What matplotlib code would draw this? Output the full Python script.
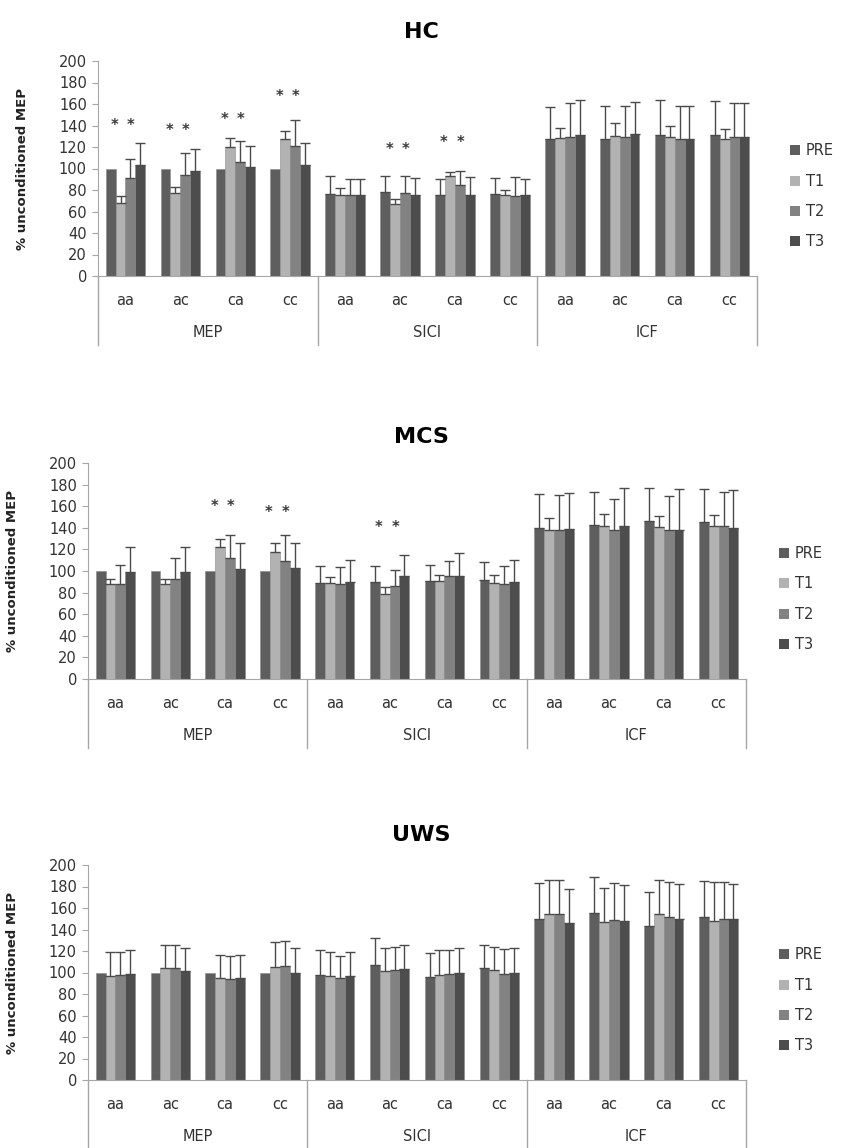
import numpy as np
import matplotlib
matplotlib.use('Agg')
import matplotlib.pyplot as plt
from matplotlib.patches import Patch
import matplotlib.transforms as mtransforms

plt.rcParams['font.family'] = ['DejaVu Sans']

# categories
sub_labels = ['aa', 'ac', 'ca', 'cc'] * 3
group_labels = ['MEP', 'SICI', 'ICF']
series = ['PRE', 'T1', 'T2', 'T3']
colors = ['#5e5e5e', '#b2b2b2', '#828282', '#4d4d4d']

# HC
hc_pre = [100, 100, 100, 100, 76, 78, 75, 76, 127, 127, 131, 131]
hc_t1 = [68, 77, 120, 127, 75, 67, 93, 75, 128, 130, 129, 127]
hc_t2 = [91, 94, 106, 121, 75, 77, 85, 74, 129, 129, 127, 129]
hc_t3 = [103, 98, 101, 103, 75, 75, 75, 75, 131, 132, 127, 129]
hc_pre_err = [0, 0, 0, 0, 17, 15, 15, 15, 30, 31, 33, 32]
hc_t1_err = [6, 6, 8, 8, 7, 5, 4, 5, 10, 12, 11, 10]
hc_t2_err = [18, 20, 20, 24, 15, 16, 13, 18, 32, 29, 31, 32]
hc_t3_err = [21, 20, 20, 21, 15, 16, 17, 15, 33, 30, 31, 32]
hc_star_idx = [0, 1, 2, 3, 5, 6]
hc_star_y = [140, 135, 146, 167, 118, 124]

# MCS
mcs_pre = [100, 100, 100, 100, 89, 90, 91, 92, 140, 143, 146, 145]
mcs_t1 = [88, 88, 122, 118, 89, 79, 91, 89, 138, 142, 141, 142]
mcs_t2 = [88, 93, 112, 109, 88, 86, 95, 88, 138, 138, 138, 142]
mcs_t3 = [99, 99, 102, 103, 90, 95, 95, 90, 139, 142, 138, 140]
mcs_pre_err = [0, 0, 0, 0, 16, 15, 15, 16, 31, 30, 31, 31]
mcs_t1_err = [5, 5, 8, 8, 5, 6, 5, 7, 11, 11, 10, 10]
mcs_t2_err = [18, 19, 21, 24, 16, 15, 14, 17, 32, 29, 31, 31]
mcs_t3_err = [23, 23, 24, 23, 20, 20, 22, 20, 33, 35, 38, 35]
mcs_star_idx = [2, 3, 5]
mcs_star_y = [160, 154, 140]

# UWS
uws_pre = [100, 100, 100, 100, 98, 107, 96, 104, 150, 155, 143, 152]
uws_t1 = [97, 104, 95, 105, 97, 101, 98, 102, 154, 147, 154, 148]
uws_t2 = [98, 104, 94, 106, 95, 102, 99, 99, 154, 149, 152, 150]
uws_t3 = [99, 101, 95, 100, 97, 103, 100, 100, 146, 148, 150, 150]
uws_pre_err = [0, 0, 0, 0, 23, 25, 22, 22, 33, 34, 32, 33]
uws_t1_err = [22, 22, 21, 23, 22, 22, 23, 22, 32, 32, 32, 36]
uws_t2_err = [21, 22, 21, 23, 20, 22, 22, 23, 32, 34, 32, 34]
uws_t3_err = [22, 22, 21, 23, 22, 23, 23, 23, 32, 33, 32, 32]
uws_star_idx = []
uws_star_y = []

panels = [
    ('HC', [hc_pre, hc_t1, hc_t2, hc_t3], [hc_pre_err, hc_t1_err, hc_t2_err, hc_t3_err],
     hc_star_idx, hc_star_y, [98, 757, 61, 276], 32),
    ('MCS', [mcs_pre, mcs_t1, mcs_t2, mcs_t3], [mcs_pre_err, mcs_t1_err, mcs_t2_err, mcs_t3_err],
     mcs_star_idx, mcs_star_y, [88, 746, 463, 679], 437),
    ('UWS', [uws_pre, uws_t1, uws_t2, uws_t3], [uws_pre_err, uws_t1_err, uws_t2_err, uws_t3_err],
     uws_star_idx, uws_star_y, [88, 746, 865, 1080], 835),
]

W, H = 842, 1148
fig = plt.figure(figsize=(W / 100, H / 100), dpi=100)

bw = 0.18
offsets = [-1.5 * bw, -0.5 * bw, 0.5 * bw, 1.5 * bw]
x = np.arange(12)
axis_gray = '#a6a6a6'
txt = '#333333'

for title, vals, errs, star_idx, star_y, box, ty in panels:
    l, r, t, b = box
    ax = fig.add_axes([l / W, 1 - b / H, (r - l) / W, (b - t) / H])
    for i in range(4):
        ax.bar(x + offsets[i], vals[i], bw, color=colors[i], edgecolor='#8a8a8a',
               linewidth=0.4, label=series[i], zorder=2)
        e = np.array(errs[i], dtype=float)
        m = e > 0
        ax.errorbar((x + offsets[i])[m], np.array(vals[i])[m],
                    yerr=[np.zeros(m.sum()), e[m]], fmt='none', ecolor='#4a4a4a',
                    elinewidth=1, capsize=3.5, capthick=1, zorder=3)
    for si, sy in zip(star_idx, star_y):
        for dx in (-0.2, 0.1):
            ax.text(si + dx, sy, '*', ha='center', va='center', fontsize=10.5,
                    fontweight='bold', color='#3a3a3a')

    ax.set_xlim(-0.5, 11.5)
    ax.set_ylim(0, 200)
    ax.set_yticks(np.arange(0, 201, 20))
    ax.set_xticks([])
    ax.tick_params(axis='y', labelsize=10.5, length=4, pad=4, color=axis_gray,
                   labelcolor=txt)
    for s in ['top', 'right']:
        ax.spines[s].set_visible(False)
    ax.spines['left'].set_color(axis_gray)
    ax.spines['bottom'].set_color(axis_gray)
    ax.set_ylabel('% unconditioned MEP', fontsize=9.5, fontweight='bold', color='#222222')
    ax.yaxis.set_label_coords(-0.105, 0.5)

    trans = mtransforms.blended_transform_factory(ax.transData, ax.transAxes)
    for sx in [-0.5, 3.5, 7.5, 11.5]:
        ax.plot([sx, sx], [0, -0.32], color=axis_gray, lw=1, transform=trans, clip_on=False)
    for i, lab in enumerate(sub_labels):
        ax.text(i, -0.112, lab, ha='center', va='center', fontsize=10.5,
                color=txt, transform=trans)
    for g, lab in enumerate(group_labels):
        ax.text(4 * g + 1.5, -0.262, lab, ha='center', va='center', fontsize=10.5,
                color=txt, transform=trans)

    handles = [Patch(facecolor=c, edgecolor='none') for c in colors]
    ax.legend(handles, series, loc='center left', bbox_to_anchor=(1.05, 0.37),
              frameon=False, fontsize=10.5, labelspacing=1.05, handlelength=0.7,
              handleheight=0.7, handletextpad=0.4, borderpad=0, borderaxespad=0,
              labelcolor=txt)

    fig.text(0.5, 1 - ty / H, title, ha='center', va='center', fontsize=16,
             fontweight='bold')

fig.savefig('out.png', dpi=100)
